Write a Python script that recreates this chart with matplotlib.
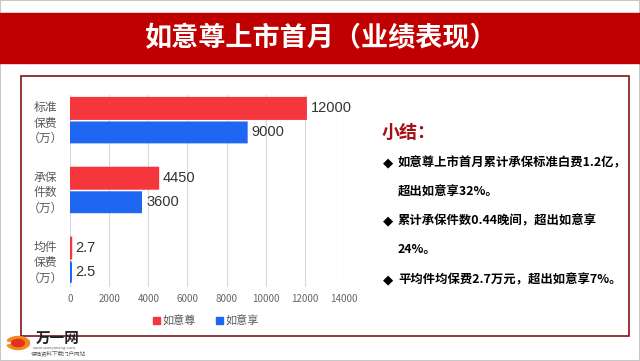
import matplotlib.pyplot as plt
from matplotlib.patches import Rectangle, Wedge

plt.rcParams['font.family'] = ['Noto Sans CJK SC', 'DejaVu Sans']

# data
groups = ["标准\n保费\n（万）", "承保\n件数\n（万）", "均件\n保费\n（万）"]
ruyizun = [12000, 4450, 2.7]
ruyixiang = [9000, 3600, 2.5]
series_names = ["如意尊", "如意享"]
xticks = [0, 2000, 4000, 6000, 8000, 10000, 12000, 14000]
title = "如意尊上市首月（业绩表现）"
summary_head = "小结："
summary_lines = [
    ("◆", "如意尊上市首月累计承保标准白费1.2亿，"),
    ("", "超出如意享32%。"),
    ("◆", "累计承保件数0.44晚间，超出如意享"),
    ("", "24%。"),
    ("◆", "平均件均保费2.7万元，超出如意享7%。"),
]

W, H = 640, 361
fig = plt.figure(figsize=(6.4, 3.61), dpi=100)
fig.patch.set_facecolor("white")

def fx(x):
    return x / W

def fy(y):
    return 1 - y / H

# outer frame and title band
fig.patches.append(Rectangle((0, 0), 1, 1, transform=fig.transFigure,
                             fill=False, edgecolor="#c8c8c8", lw=1.5))
fig.patches.append(Rectangle((0, fy(62.5)), 1, (62.5 - 12.5) / H,
                             transform=fig.transFigure, color="#c00000"))
fig.text(0.5, fy(38), title, color="white", fontsize=19.5, fontweight="bold",
         ha="center", va="center")

# dark red content box
fig.patches.append(Rectangle((fx(21), fy(336)), fx(629 - 21), (336 - 76) / H,
                             transform=fig.transFigure, fill=False,
                             edgecolor="#7f1416", lw=1.2))

# bar chart
ax = fig.add_axes([fx(70), fy(287), fx(344 - 70), (287 - 95) / H])
red = "#f5363c"
blue = "#1f66f2"
pos = list(range(len(groups)))
h = 0.27
off = 0.172
ax.barh([p - off for p in pos], ruyizun, height=h, color=red,
        edgecolor=red, lw=3, snap=False, zorder=3)
ax.barh([p + off for p in pos], ruyixiang, height=h, color=blue,
        edgecolor=blue, lw=2.2, snap=False, zorder=3)
for p, v in zip(pos, ruyizun):
    ax.annotate(f"{v:g}", (v, p - off), xytext=(4, 0), textcoords="offset points",
                va="center", ha="left", fontsize=10.5, color="#333333",
                family=["Liberation Sans", "DejaVu Sans"])
for p, v in zip(pos, ruyixiang):
    ax.annotate(f"{v:g}", (v, p + off), xytext=(4, 0), textcoords="offset points",
                va="center", ha="left", fontsize=10.5, color="#333333",
                family=["Liberation Sans", "DejaVu Sans"])
ax.set_xlim(0, 14000)
ax.set_ylim(2.386, -0.364)
ax.set_xticks(xticks)
ax.set_xticklabels([str(t) for t in xticks], fontsize=7, color="#666666")
ax.set_yticks(pos)
ax.set_yticklabels(groups, fontsize=8.5, color="#595959", linespacing=1.25,
                   multialignment="center")
ax.tick_params(length=0, pad=5)
ax.grid(axis="x", color="#d9d9d9", lw=0.8)
ax.set_axisbelow(True)
for s in ["top", "right", "bottom", "left"]:
    ax.spines[s].set_visible(False)

# legend
leg = [(156, red, series_names[0]), (219, blue, series_names[1])]
for x, c, name in leg:
    fig.patches.append(Rectangle((fx(x - 3.5), fy(323.5)), fx(7), 7 / H,
                                 transform=fig.transFigure, color=c))
    fig.text(fx(x + 7), fy(320), name, fontsize=8, color="#595959",
             ha="left", va="center")

# summary text
fig.text(fx(382), fy(132), summary_head, fontsize=13, fontweight="bold",
         color="#a50f15", ha="left", va="center")
line_y = [163, 192, 221, 250, 280]
for (bullet, txt), y in zip(summary_lines, line_y):
    if bullet:
        fig.text(fx(383), fy(y), bullet, fontsize=9.5, color="black",
                 ha="left", va="center", family=["DejaVu Sans"])
    fig.text(fx(398), fy(y), txt, fontsize=8.9, fontweight="bold",
             color="black", ha="left", va="center")

# logo
fig.patches.append(Wedge((fx(18), fy(343)), 0.018, 200, 520,
                         width=0.008, transform=fig.transFigure, color="#f08a1c"))
fig.patches.append(Wedge((fx(18), fy(343)), 0.01, 0, 360,
                         transform=fig.transFigure, color="#e2311d"))
fig.text(fx(36), fy(338), "万一网", fontsize=10.5, fontweight="bold",
         color="#222222", ha="left", va="center")
fig.text(fx(33), fy(348), "www.wanyiwang.com", fontsize=3, color="#666666",
         ha="left", va="center")
fig.text(fx(31), fy(354), "保险资料下载门户网站", fontsize=4, color="#555555",
         ha="left", va="center")

fig.savefig("out.png", dpi=100)
